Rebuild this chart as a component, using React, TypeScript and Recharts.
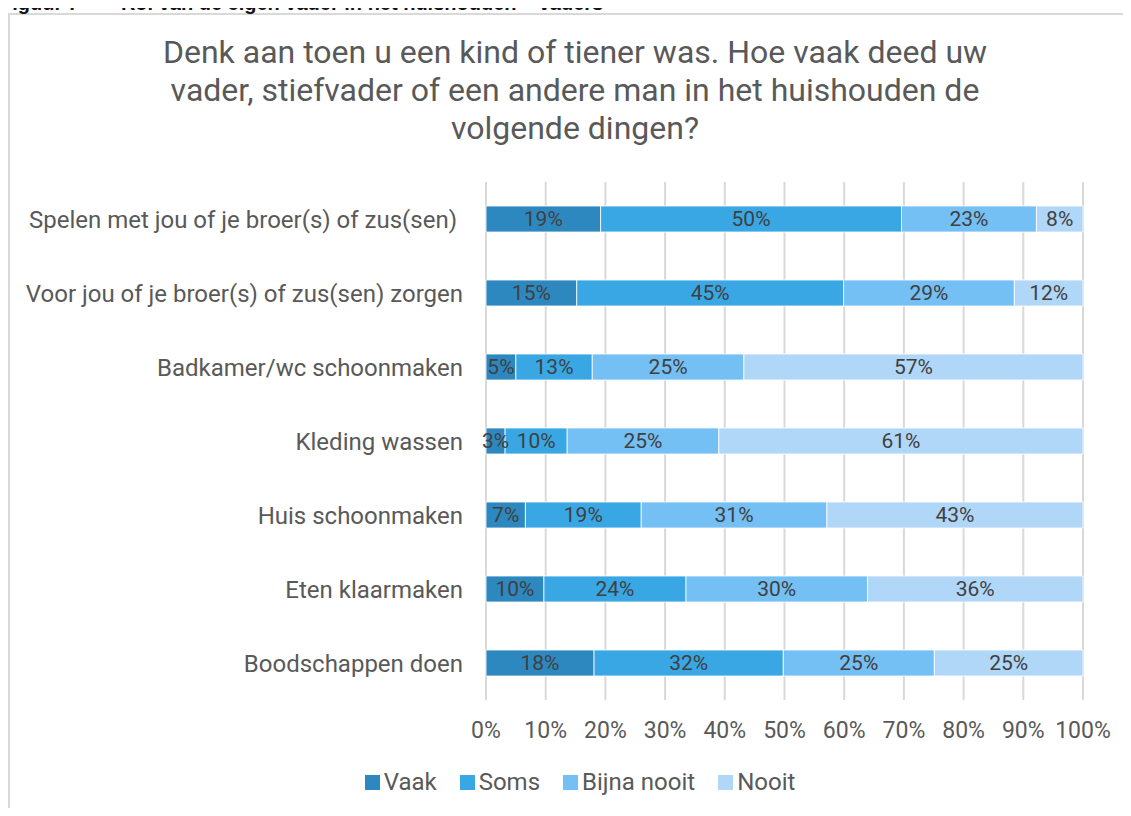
import React from 'react';
import { BarChart, Bar, XAxis, YAxis, CartesianGrid, LabelList } from 'recharts';

const categories = [
  'Spelen met jou of je broer(s) of zus(sen)\u00a0',
  'Voor jou of je broer(s) of zus(sen) zorgen',
  'Badkamer/wc schoonmaken',
  'Kleding wassen',
  'Huis schoonmaken',
  'Eten klaarmaken',
  'Boodschappen doen',
];

const vaak = [19.2, 15.2, 5.0, 3.2, 6.6, 9.7, 18.1];
const soms = [50.4, 44.7, 12.8, 10.4, 19.4, 23.8, 31.7];
const bijnaNooit = [22.6, 28.6, 25.4, 25.4, 31.1, 30.4, 25.3];
const nooit = [7.8, 11.5, 56.8, 61.0, 42.9, 36.1, 24.9];

const xTicks = [0, 10, 20, 30, 40, 50, 60, 70, 80, 90, 100];

const SERIES = [
  { key: 'vaak', name: 'Vaak', color: '#2e88c0' },
  { key: 'soms', name: 'Soms', color: '#38a7e4' },
  { key: 'bijna', name: 'Bijna nooit', color: '#74bff4' },
  { key: 'nooit', name: 'Nooit', color: '#b1d7f8' },
];

const TITLE = 'Denk aan toen u een kind of tiener was. Hoe vaak deed uw vader, stiefvader of een andere man in het huishouden de volgende dingen?';

const data = categories.map((name, i) => ({
  name,
  vaak: vaak[i],
  soms: soms[i],
  bijna: bijnaNooit[i],
  nooit: nooit[i],
}));

const FONT = 'Roboto, "Noto Sans", sans-serif';
const pct = (v: any) => `${Math.round(Number(v))}%`;

export default function App() {
  return (
    <div style={{ position: 'relative', width: 1131, height: 816, margin: -8, overflow: 'hidden', background: '#fff', fontFamily: FONT }}>
      <div style={{ position: 'absolute', left: 8, top: 13, width: 1140, height: 820, border: '2px solid #d9d9d9', boxSizing: 'border-box' }} />
      <div style={{ position: 'absolute', left: 150, top: 33, width: 850, textAlign: 'center', fontSize: 32, lineHeight: '38px', color: '#595959' }}>
        {TITLE}
      </div>
      <div style={{ position: 'absolute', left: 0, top: 0 }}>
        <BarChart
          width={1131}
          height={816}
          data={data}
          layout="vertical"
          barSize={26}
          margin={{ top: 182, right: 48, bottom: 76, left: 0 }}
          style={{ fontFamily: FONT }}
        >
          <CartesianGrid horizontal={false} stroke="#d9d9d9" strokeWidth={2} />
          <XAxis
            type="number"
            domain={[0, 100]}
            ticks={xTicks}
            tickFormatter={pct}
            axisLine={false}
            tickLine={false}
            tickSize={0}
            tickMargin={22}
            height={40}
            interval={0}
            tick={{ fill: '#595959', fontSize: 23 }}
          />
          <YAxis
            type="category"
            dataKey="name"
            width={486}
            axisLine={false}
            tickLine={false}
            tickSize={0}
            tickMargin={23}
            interval={0}
            tick={{ fill: '#595959', fontSize: 24 }}
          />
          {SERIES.map((s) => (
            <Bar key={s.key} dataKey={s.key} name={s.name} stackId="a" fill={s.color} stroke="#ffffff" strokeWidth={0.8} isAnimationActive={false}>
              <LabelList dataKey={s.key} position="center" formatter={pct} fill="#404040" fontSize={21} />
            </Bar>
          ))}
        </BarChart>
      </div>
      <div style={{ position: 'absolute', left: 0, top: 768, width: 1131, display: 'flex', justifyContent: 'center', paddingLeft: 52, boxSizing: 'border-box' }}>
        {SERIES.map((s) => (
          <div key={s.key} style={{ display: 'flex', alignItems: 'center', marginRight: 23, fontSize: 24, color: '#595959' }}>
            <span style={{ display: 'inline-block', width: 15, height: 15, background: s.color, marginRight: 4 }} />
            <span>{s.name}</span>
          </div>
        ))}
      </div>
      {/* figure caption, cut off at the top like in the source document */}
      <div style={{ position: 'absolute', left: 0, top: -6, zIndex: 10, whiteSpace: 'nowrap', fontFamily: '"Liberation Sans", Arial, sans-serif', fontWeight: 'bold', fontSize: 20, lineHeight: '18px', color: '#111' }}>
        <span>Figuur 7</span>
        <span style={{ marginLeft: 42 }}>Rol van de eigen vader in het huishouden – vaders</span>
      </div>
    </div>
  );
}
